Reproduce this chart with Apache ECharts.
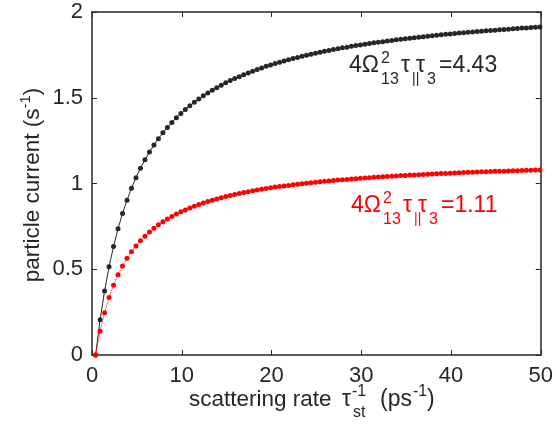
<!DOCTYPE html>
<html>
<head>
<meta charset="utf-8">
<script src="https://cdn.jsdelivr.net/npm/echarts@6/dist/echarts.min.js"></script>
<style>
html,body{margin:0;padding:0;background:#fff;}
#c{width:556px;height:439px;}
</style>
</head>
<body>
<div id="c"></div>
<script>
// scattering rate (ps^-1)
const xs = [0.4,0.9,1.4,1.9,2.4,2.9,3.4,3.9,4.4,4.9,5.4,5.9,6.4,6.9,7.4,7.9,8.4,8.9,9.4,9.9,
10.4,10.9,11.4,11.9,12.4,12.9,13.4,13.9,14.4,14.9,15.4,15.9,16.4,16.9,17.4,17.9,18.4,18.9,19.4,19.9,
20.4,20.9,21.4,21.9,22.4,22.9,23.4,23.9,24.4,24.9,25.4,25.9,26.4,26.9,27.4,27.9,28.4,28.9,29.4,29.9,
30.4,30.9,31.4,31.9,32.4,32.9,33.4,33.9,34.4,34.9,35.4,35.9,36.4,36.9,37.4,37.9,38.4,38.9,39.4,39.9,
40.4,40.9,41.4,41.9,42.4,42.9,43.4,43.9,44.4,44.9,45.4,45.9,46.4,46.9,47.4,47.9,48.4,48.9,49.4,49.9];
// particle current, 4Ω²τ∥τ3 = 4.43
const currentHigh = [0,0.205,0.373,0.514,0.633,0.736,0.825,0.903,0.972,1.034,
1.089,1.138,1.183,1.224,1.261,1.296,1.327,1.356,1.383,1.408,
1.432,1.453,1.474,1.493,1.511,1.528,1.544,1.559,1.573,1.587,
1.600,1.612,1.623,1.634,1.645,1.655,1.665,1.674,1.683,1.691,
1.699,1.707,1.715,1.722,1.729,1.735,1.742,1.748,1.754,1.760,
1.765,1.771,1.776,1.781,1.786,1.791,1.795,1.800,1.804,1.808,
1.812,1.816,1.820,1.824,1.827,1.831,1.834,1.838,1.841,1.844,
1.847,1.850,1.853,1.856,1.859,1.862,1.864,1.867,1.870,1.872,
1.874,1.877,1.879,1.882,1.884,1.886,1.888,1.890,1.892,1.894,
1.896,1.898,1.900,1.902,1.904,1.906,1.907,1.909,1.911,1.912];
// particle current, 4Ω²τ∥τ3 = 1.11
const currentLow = [0,0.138,0.247,0.335,0.407,0.468,0.519,0.564,0.602,0.636,
0.666,0.693,0.717,0.739,0.759,0.777,0.793,0.808,0.822,0.835,
0.846,0.857,0.868,0.877,0.886,0.895,0.903,0.910,0.917,0.924,
0.930,0.936,0.942,0.947,0.952,0.957,0.962,0.966,0.971,0.975,
0.979,0.982,0.986,0.989,0.993,0.996,0.999,1.002,1.005,1.007,
1.010,1.013,1.015,1.017,1.020,1.022,1.024,1.026,1.028,1.030,
1.032,1.034,1.036,1.038,1.039,1.041,1.043,1.044,1.046,1.047,
1.049,1.050,1.051,1.053,1.054,1.055,1.057,1.058,1.059,1.060,
1.061,1.062,1.064,1.065,1.066,1.067,1.068,1.069,1.070,1.071,
1.071,1.072,1.073,1.074,1.075,1.076,1.077,1.077,1.078,1.079];
const xTicks = [0, 50, 10];
const yTicks = [0, 2, 0.5];

const FONT = '"Liberation Sans", Arial, Helvetica, sans-serif';
const INK = '#262626';

function t(text, x, base, fs, color) {
  return {type:'text', x: x, y: base - 0.31*fs, z: 100,
    style:{text:text, fontSize:fs, fontFamily:FONT, fill:color, align:'left', verticalAlign:'middle'}};
}
function annot(dx, dy, color, value) {
  return [
    t('4Ω', 349+dx, 73+dy, 23, color),
    t('2', 381+dx, 64+dy, 16, color),
    t('13', 381+dx, 85+dy, 16, color),
    t('τ', 401+dx, 73+dy, 23, color),
    t('||', 412+dx, 83+dy, 14, color),
    t('τ', 416+dx, 73+dy, 23, color),
    t('3', 427+dx, 85+dy, 16, color),
    t('=' + value, 439+dx, 73+dy, 23, color)
  ];
}

const chart = echarts.init(document.getElementById('c'), null, {renderer:'canvas'});
function axisCommon() {
  return {
    axisLine:{show:true, onZero:false, lineStyle:{color:INK, width:1.5}},
    axisTick:{show:true, inside:true, length:5, lineStyle:{color:INK, width:1}},
    splitLine:{show:false}
  };
}
chart.setOption({
  animation:false,
  backgroundColor:'#fff',
  grid:{left:92, right:11, top:12, bottom:84, containLabel:false},
  xAxis:[
    Object.assign({type:'value', min:xTicks[0], max:xTicks[1], interval:xTicks[2], position:'bottom',
      axisLabel:{fontSize:22, fontFamily:FONT, color:INK, margin:10}}, axisCommon()),
    Object.assign({type:'value', min:xTicks[0], max:xTicks[1], interval:xTicks[2], position:'top',
      axisLabel:{show:false}}, axisCommon())
  ],
  yAxis:[
    Object.assign({type:'value', min:yTicks[0], max:yTicks[1], interval:yTicks[2], position:'left',
      axisLabel:{fontSize:22, fontFamily:FONT, color:INK, margin:9}}, axisCommon()),
    Object.assign({type:'value', min:yTicks[0], max:yTicks[1], interval:yTicks[2], position:'right',
      axisLabel:{show:false}}, axisCommon())
  ],
  series:[
    {type:'line', data: xs.map((x,i)=>[x, currentHigh[i]]), symbol:'circle', symbolSize:5,
      itemStyle:{color:'#262626'}, lineStyle:{color:'#262626', width:1}, clip:false},
    {type:'line', data: xs.map((x,i)=>[x, currentLow[i]]), symbol:'circle', symbolSize:5,
      itemStyle:{color:'#ff0000'}, lineStyle:{color:'#ff0000', width:1, type:'dotted'}, clip:false}
  ],
  graphic: [].concat(
    annot(0, 0, INK, '4.43'),
    annot(2, 140, '#ff0000', '1.11'),
    [
      t('scattering rate', 189, 407, 22.5, INK),
      t('τ', 342, 407, 23, INK),
      t('-1', 352, 397, 16, INK),
      t('st', 353, 418, 16, INK),
      t('(ps', 380, 407, 23, INK),
      t('-1', 413, 397, 16, INK),
      t(')', 427, 407, 23, INK),
      {type:'text', x:33, y:185, rotation:Math.PI/2, z:100,
        style:{text:'{a|particle current (s}{b|-1}{a|)}', align:'center', verticalAlign:'middle',
          fontFamily:FONT, fill:INK,
          rich:{a:{fontSize:22.5, lineHeight:30, fontFamily:FONT, fill:INK},
                b:{fontSize:15, lineHeight:15, verticalAlign:'top', fontFamily:FONT, fill:INK}}}}
    ]
  )
});
</script>
</body>
</html>
